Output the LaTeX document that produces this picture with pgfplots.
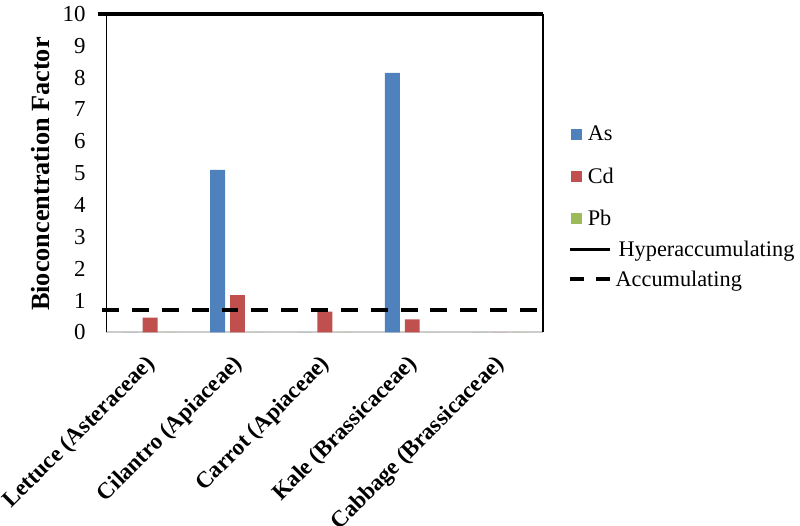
\documentclass[border=0pt]{standalone}
\usepackage{fontspec}
\setmainfont{Liberation Serif}
\usepackage{pgfplots}
\pgfplotsset{compat=1.18}
\definecolor{cAs}{HTML}{4F81BD}
\definecolor{cCd}{HTML}{C0504D}
\definecolor{cPb}{HTML}{9BBB59}
\begin{document}
\begin{tikzpicture}
\begin{axis}[
 at={(0pt,0pt)}, anchor=south west,
 width=219.5pt, height=160pt, scale only axis,
 xmin=-0.5, xmax=4.5, ymin=0, ymax=10,
 ytick={0,1,2,3,4,5,6,7,8,9,10},
 xtick={0,1,2,3,4},
 xticklabels={Lettuce (Asteraceae), Cilantro (Apiaceae), Carrot (Apiaceae), Kale (Brassicaceae), Cabbage (Brassicaceae)},
 xticklabel style={xshift=-3pt, yshift=-10.5pt, rotate=45, anchor=north east, inner sep=0pt, font=\fontsize{11.6}{14}\selectfont\bfseries},
 yticklabel style={font=\fontsize{11.5}{14}\selectfont, xshift=-7pt},
 /pgf/number format/assume math mode=true,
 major tick length=0pt,
 separate axis lines,
 x axis line style={draw=gray!40, line width=1pt},
 y axis line style={draw=black, line width=0.8pt},
 ylabel={Bioconcentration Factor},
 every axis y label/.style={at={(axis description cs:-0.152,0.497)}, rotate=90, anchor=center, font=\fontsize{13.2}{16}\selectfont\bfseries},
 clip=false,
 legend cell align=left,
 legend style={draw=none, fill=none, at={(1.044,0.674)}, anchor=north west, font=\fontsize{11.2}{13}\selectfont, row sep=2.1pt, /tikz/column sep=0pt, cells={anchor=base west}},
]
\addplot[ybar, bar width=7.5pt, bar shift=-10pt, fill=cAs, draw=none,
  legend image code/.code={\fill[cAs] (0pt,0.6pt) rectangle (5.5pt,6.1pt);}]
  coordinates {(0,0) (1,5.1) (2,0) (3,8.15) (4,0)};
\addlegendentry{As}
\addplot[ybar, bar width=7.5pt, bar shift=0pt, fill=cCd, draw=none,
  legend image code/.code={\fill[cCd] (0pt,0.6pt) rectangle (5.5pt,6.1pt);}]
  coordinates {(0,0.46) (1,1.17) (2,0.65) (3,0.41) (4,0)};
\addlegendentry{\rule{0pt}{13.7pt}Cd}
\addplot[ybar, bar width=7.5pt, bar shift=10pt, fill=cPb, draw=none,
  legend image code/.code={\fill[cPb] (0pt,0.6pt) rectangle (5.5pt,6.1pt);}]
  coordinates {(0,0) (1,0) (2,0) (3,0) (4,0)};
\addlegendentry{\rule{0pt}{13.7pt}Pb}
\addplot[black, line width=1.8pt,
  legend image code/.code={\draw[overlay, black, line width=1.8pt] (-0.5pt,3.3pt) -- (19.5pt,3.3pt);\path (0pt,3.3pt) -- (5.5pt,3.3pt);}]
  coordinates {(-0.6,10) (4.5,10)};
\addlegendentry{\hspace{15.5pt}Hyperaccumulating}
\addplot[black, line width=2pt, dash pattern=on 8.5pt off 6.5pt,
  legend image code/.code={\draw[overlay, black, line width=2pt, dash pattern=on 7pt off 6pt] (-0.5pt,3.8pt) -- (20pt,3.8pt);\path (0pt,3.8pt) -- (5.5pt,3.8pt);}]
  coordinates {(-0.55,0.7) (4.5,0.7)};
\addlegendentry{\hspace{14pt}Accumulating}
\end{axis}
\pgfresetboundingbox
\useasboundingbox (-53.5pt,-97pt) rectangle (348.5pt,167pt);
\end{tikzpicture}
\end{document}
